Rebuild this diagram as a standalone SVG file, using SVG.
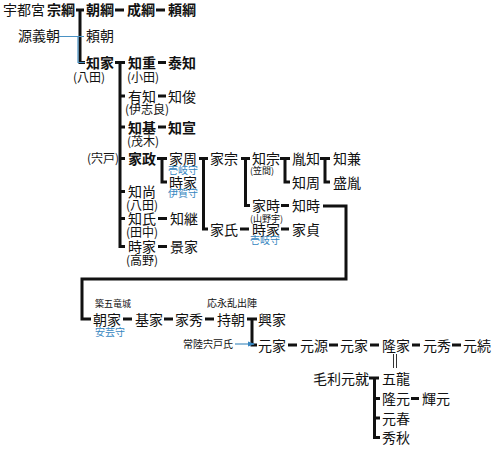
<svg xmlns="http://www.w3.org/2000/svg" width="495" height="449" viewBox="0 0 495 449">
<defs>
<style>
text{font-family:"Noto Sans CJK JP","Noto Sans",sans-serif;font-size:14px;fill:#111}
.b{font-weight:bold}
.p{font-size:12px}
.q{font-size:9px}
.s{font-size:10px}
.s9{font-size:9px}
.bl{font-size:10px;fill:#3585c0}
.c{stroke:#111;stroke-width:3;fill:none;stroke-linejoin:miter}
.t{stroke:#4a92c4;stroke-width:1.2;fill:none}
.d{stroke:#333;stroke-width:1;fill:none}
</style>
<marker id="ar" viewBox="0 0 8 8" refX="7" refY="4" markerWidth="7" markerHeight="7" orient="auto" markerUnits="userSpaceOnUse"><path d="M0,1 L8,4 L0,7 Z" fill="#3585c0"/></marker>
</defs>
<rect width="495" height="449" fill="#fff"/>
<g id="connectors">
<path class="c" d="M76,10 H84 M80,10 V62.5 H85"/>
<path class="t" d="M59,36.5 H84 M78,36.5 V62.5 H85"/>
<path class="c" d="M115,62.5 H125 M120,61 V246.5 H125 M120,96 H125 M120,127 H125 M120,158.5 H125 M120,191.5 H125 M120,218.5 H125"/>
<path class="c" d="M157,158.5 H167 M162,158.5 V182 H167"/>
<path class="c" d="M199,158.5 H208 M203.5,158.5 V229 H208"/>
<path class="c" d="M241,158.5 H250 M245.5,158.5 V205.5 H250"/>
<path class="c" d="M280,158.5 H290 M285,158.5 V182 H290"/>
<path class="c" d="M320,158.5 H330 M325,158.5 V182 H330"/>
<path class="c" d="M323,206 H346 V279 H82 V319 H91"/>
<path class="c" d="M247,319 H257 M252,319 V345 H257"/>
<path class="c" d="M369,378 H379 M374.5,378 V437.5 H380 M374.5,398.5 H380 M374.5,418 H380"/>
<path class="c" d="M115,10 H124 M156,10 H165 M158,62.5 H166 M158,96 H166 M158,127 H166 M158,218.5 H167 M158,246.5 H167 M281,205.5 H289 M240,229 H249 M281,229 H289 M123,319 H132 M164,319 H173 M205,319 H214 M288,345 H297 M329,345 H338 M370,345 H379 M412,345 H420 M452,345 H461 M411,398.5 H419"/>
<path class="d" d="M393.5,354 V368 M396.5,354 V368"/>
<path class="t" d="M235,344 H254" marker-end="url(#ar)"/>
</g>
<g id="n-utsunomiya"><text x="3" y="15">宇都宮</text><text class="b" x="47" y="15">宗綱</text></g>
<g id="n-tomotsuna"><text class="b" x="86" y="15">朝綱</text></g>
<g id="n-naritsuna"><text class="b" x="127" y="15">成綱</text></g>
<g id="n-yoritsuna"><text class="b" x="168" y="15">頼綱</text></g>
<g id="n-yoshitomo"><text x="18" y="41">源義朝</text></g>
<g id="n-yoritomo"><text x="86" y="41">頼朝</text></g>
<g id="n-tomoie"><text class="b" x="86" y="68">知家</text><text class="p" x="73" y="81.5">(八田)</text></g>
<g id="n-tomoshige"><text class="b" x="128" y="68">知重</text><text class="p" x="127" y="81.5">(小田)</text></g>
<g id="n-yasutomo"><text class="b" x="168" y="68">泰知</text></g>
<g id="n-aritomo"><text x="128" y="101.5">有知</text><text class="p" x="125" y="113.5">(伊志良)</text></g>
<g id="n-tomotoshi"><text x="168" y="101.5">知俊</text></g>
<g id="n-tomomoto"><text class="b" x="128" y="132.5">知基</text><text class="p" x="127" y="145.5">(茂木)</text></g>
<g id="n-tomonobu"><text class="b" x="168" y="132.5">知宣</text></g>
<g id="n-iemasa"><text class="p" x="87" y="163">(宍戸)</text><text class="b" x="128" y="164">家政</text></g>
<g id="n-tomohisa"><text x="128" y="197">知尚</text><text class="p" x="126" y="209.5">(八田)</text></g>
<g id="n-tomouji"><text x="128" y="224">知氏</text><text class="p" x="126" y="236.5">(田中)</text></g>
<g id="n-tomotsugu"><text x="170" y="224">知継</text></g>
<g id="n-tokiie1"><text x="128" y="252">時家</text><text class="p" x="126" y="264.5">(高野)</text></g>
<g id="n-kageie"><text x="170" y="252">景家</text></g>
<g id="n-iechika"><text x="169" y="164">家周</text><text class="bl" x="168" y="174">壱岐守</text></g>
<g id="n-tokiie2"><text x="169" y="187.5">時家</text><text class="bl" x="168" y="197">伊賀守</text></g>
<g id="n-iemune"><text x="210" y="164">家宗</text></g>
<g id="n-ieuji"><text x="210" y="234.5">家氏</text></g>
<g id="n-tomomune"><text x="252" y="164">知宗</text><text class="q" x="250" y="173.5">(笠間)</text></g>
<g id="n-tanetomo"><text x="292" y="164">胤知</text></g>
<g id="n-tomochika"><text x="292" y="187.5">知周</text></g>
<g id="n-tomokane"><text x="333" y="164">知兼</text></g>
<g id="n-moritane"><text x="333" y="187.5">盛胤</text></g>
<g id="n-ietoki"><text x="252" y="211">家時</text><text class="q" x="250" y="221.5">(山野宇)</text></g>
<g id="n-tomotoki"><text x="292" y="211">知時</text></g>
<g id="n-tokiie3"><text x="252" y="234.5">時家</text><text class="bl" x="250" y="244">壱岐守</text></g>
<g id="n-iesada"><text x="292" y="234.5">家貞</text></g>
<g id="n-tomoie2"><text class="s9" x="95" y="307">築五竜城</text><text x="93" y="324.5">朝家</text><text class="bl" x="95" y="336">安芸守</text></g>
<g id="n-motoie"><text x="135" y="324.5">基家</text></g>
<g id="n-iehide"><text x="175" y="324.5">家秀</text></g>
<g id="n-mochitomo"><text class="s" x="207" y="307">応永乱出陣</text><text x="217" y="324.5">持朝</text></g>
<g id="n-okiie"><text x="258" y="324.5">興家</text></g>
<g id="n-hitachi"><text class="s" x="183" y="348">常陸宍戸氏</text></g>
<g id="n-motoie2"><text x="258" y="350.5">元家</text></g>
<g id="n-motominamoto"><text x="300" y="350.5">元源</text></g>
<g id="n-motoie3"><text x="340" y="350.5">元家</text></g>
<g id="n-takaie"><text x="382" y="350.5">隆家</text></g>
<g id="n-motohide"><text x="423" y="350.5">元秀</text></g>
<g id="n-mototsugu"><text x="463" y="350.5">元続</text></g>
<g id="n-motonari"><text x="313" y="383.5">毛利元就</text></g>
<g id="n-goryu"><text x="382" y="383.5">五龍</text></g>
<g id="n-takamoto"><text x="382" y="404">隆元</text></g>
<g id="n-terumoto"><text x="422" y="404">輝元</text></g>
<g id="n-motoharu"><text x="382" y="423.5">元春</text></g>
<g id="n-hideaki"><text x="382" y="443">秀秋</text></g>
</svg>
